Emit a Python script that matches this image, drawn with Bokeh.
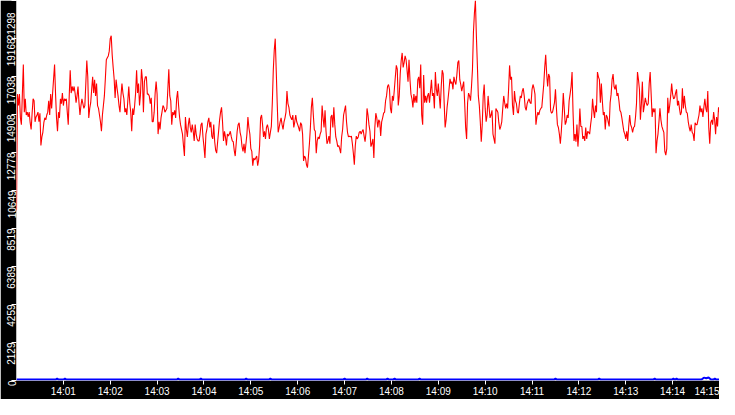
import math
import numpy as np
from bokeh.plotting import figure
from bokeh.models import Range1d, FixedTicker, LinearAxis, DatetimeTickFormatter
from bokeh.embed import file_html
from bokeh.resources import INLINE

# ---------------- data ----------------
START = np.datetime64("2024-01-01T14:00:00")
END = np.datetime64("2024-01-01T14:15:00")
SAMPLE_MS = 1250  # one red sample every 1.25 s

# red series, in consecutive pieces
red_part1 = [9530, 16050, 15410, 16050, 14720, 14340, 16050, 17710, 15040,
             15790, 14880, 15040, 14770, 15040, 14450, 14070, 14980, 15790,
             15680, 14500, 14770, 14880, 15040, 14500, 14980, 13170, 13650,
             13910, 14450, 14720, 14610, 14880, 15040, 15680, 14880, 16050,
             15250, 16110, 16910, 17710, 16050, 14720, 13970, 15040, 14720,
             15790, 15520, 16110, 15410, 15790, 15680, 15790, 15040, 14340, 15950,
             17390, 16110, 16480, 16220, 16480, 16110, 15570, 15950, 16480,
             15570, 14880, 15410, 15790, 15520, 15250, 15410, 16640, 17930,
             17020, 14720, 15250, 15570, 16320, 17020, 16110, 16860, 15950,
             16640, 15410, 15250, 14880, 14500, 13970, 14880, 15410, 15950,
             16910, 17980, 18090, 18190, 18460, 19160, 19320, 18250, 17550, 16910,
             15840, 16860, 16380, 15950, 15410, 15040, 15950, 16640, 16110, 15790,
             15040, 15250, 14880, 15680, 16480, 15570, 15040, 13970, 15250, 14880,
             15410, 16110, 17390, 16110]
red_part2 = [16640, 15410, 16050, 17450, 16860, 15040, 16750, 17020, 17020, 16050,
             16050, 15950, 15520, 15840, 14500, 14500, 15040, 16110, 16750, 16050,
             13810, 14500, 14070, 14720, 15040, 15410, 15310, 15040, 15140, 15250,
             16320, 17450, 15950, 15680, 14340, 15040, 14880, 15140, 14720, 15790,
             16220, 15410, 14770, 14340, 14070, 13810, 13170, 12580, 14770, 14070,
             13650, 14340, 14720, 14180, 13910, 14340, 13970, 13430, 14340, 13810,
             13540, 13430, 13430, 13810, 14340, 14450, 13650, 13110, 12470, 13810,
             14070, 14500, 14720, 14180, 14500, 13700, 13540, 14340, 13380, 12900,
             12740, 13380, 13970, 14610, 15040, 15310, 14500, 13430, 13970, 13650,
             13170, 13810, 13700, 13810, 13970, 13650, 13430, 13380, 12900, 12580,
             13270, 13970, 14340, 14450, 13910, 13650, 13110, 12840, 13270, 12740,
             13270, 13810, 14770, 14180, 13810, 13000, 12840, 12040, 12470, 12360,
             12470, 12580]
red_part3 = [12040, 12360, 13170, 14720, 14880, 14340, 13650, 13970, 13540, 14180,
             14340, 14070, 13540, 13910, 14240, 15570, 17390, 18520, 19160, 17390,
             15570, 13910, 14180, 14500, 14720, 14340, 14070, 14500, 14720, 15040,
             16220, 15520, 15310, 14880, 14720, 14610, 14880, 14180, 14500, 14880,
             14500, 14340, 14180, 13970, 14450, 14340, 13810, 12310, 12580, 12470,
             12090, 11930, 12580, 13270, 14180, 15310, 15840, 14880, 14070, 13970,
             12740, 13430, 13650, 13540, 13810, 13970, 15410, 14720, 14180, 15140,
             13970, 13270, 13430, 13700, 13270, 14770, 14880, 14180, 15310, 14340,
             13650, 13430, 13110, 13170, 13000, 12740, 13650, 14070, 14880, 15140,
             15410, 14500, 13910, 13650, 13700, 13650, 13700, 13270, 12740, 12090,
             13170, 13700, 13540, 13650, 13910, 13970, 13810, 13970, 14070, 13700,
             13380, 13910, 15250, 14880, 14340, 13970, 13110, 13270, 13540, 12470,
             14180]
red_part4 = [14980, 14720, 14180, 14610, 14500, 13700, 14500, 14720, 14980, 15040,
             15680, 15950, 16480, 16590, 16320, 15250, 14980, 15950, 15680, 16320,
             17020, 17660, 17450, 15410, 15950, 17180, 17930, 18360, 17550, 17820,
             18190, 17980, 17390, 16750, 17980, 16860, 16050, 15790, 15310, 16050,
             15570, 15950, 15570, 16860, 17020, 16380, 17710, 14880, 14340, 17120,
             15570, 15950, 15570, 15950, 16110, 15570, 16220, 16860, 15950, 16110,
             15250, 17290, 16320, 15950, 16640, 15950, 15250, 16480, 17390, 17180,
             15570, 14180, 14610, 15310, 15790, 16320, 16910, 16640, 16750, 16320,
             17020, 16750, 16590, 17120, 17820, 17930, 16860, 16590, 16220, 16480,
             16750, 15570, 14180, 13540, 15570, 16110, 15950, 15680, 16480, 17450,
             19530, 20600, 21298, 19320, 17710, 15950, 15410, 14500, 13380, 14340,
             15950, 16590, 15250, 14500, 14880, 15950, 15310, 14720, 14880, 15140]
red_part5 = [13810, 13540, 13270, 15250, 15140, 15040, 14450, 14070, 14240, 14500,
             15250, 15950, 15570, 15250, 15520, 15250, 16320, 17660, 16860, 17020,
             15410, 14880, 16220, 15680, 15520, 15040, 14980, 15520, 15950, 15840,
             16220, 16380, 15950, 15310, 15140, 15520, 15680, 15790, 15570, 15520,
             16320, 16590, 16380, 16050, 14340, 14770, 15040, 14880, 15140, 15250,
             15310, 15950, 16590, 17550, 18250, 17180, 16480, 17180, 17020, 15140,
             14980, 15040, 15310, 15570, 16320, 15250, 14340, 14180, 13810, 13270,
             13970, 14880, 16110, 15250, 14340, 14500, 14880, 14720, 15680, 16050,
             16480, 17290, 15040, 13430, 13810, 13380, 14340, 13110, 13910, 15250,
             14240, 14240, 13540, 13700, 13430, 14180, 13540, 13970, 13910, 13810,
             14340, 14770, 15790, 15140, 14720, 15410, 15040, 17290, 17020, 16860,
             15570, 16640, 15680, 14880, 15040, 14070, 14880, 14770, 14500, 14240]
red_part6 = [15570, 16050, 16860, 17180, 16480, 16320, 16590, 15950, 16110, 15680,
             15140, 15040, 14720, 14340, 13970, 13810, 13540, 13970, 13430, 14240,
             14880, 14340, 14180, 13910, 14180, 14240, 14770, 15520, 17290, 16860,
             16320, 14610, 15520, 16750, 15040, 15410, 15840, 15570, 15410, 15520,
             16640, 17290, 16050, 14770, 15250, 15040, 15250, 12740, 13430, 13810,
             14500, 15250, 14610, 14240, 14070, 13910, 12840, 12630, 13000, 15840,
             14980, 15410, 15950, 16640, 16050, 15790, 15840, 16110, 16320, 15410,
             15680, 15250, 14880, 15040, 16380, 15250, 15950, 15410, 15040, 14980,
             14500, 14180, 13970, 14340, 13910, 13810, 13430, 14450, 14340, 14340,
             14610, 14880, 15410, 15040, 15250, 14770, 15310, 15790, 15250, 15040,
             16220, 14180, 13270, 14450, 14610, 14340, 15040, 14610, 13810, 14770,
             14240, 15310, 15040, 15140, 15250]

# blue series (seconds after 14:00:00, value)
blue_seconds = [0, 50, 52, 54, 60, 62, 64, 205, 207, 209, 234, 236, 238,
                292, 294, 296, 323, 325, 327, 418, 420, 422, 447, 449, 451,
                473, 475, 477, 482, 484, 486, 514, 516, 518, 688, 690, 692,
                744, 746, 748, 815, 817, 819, 839, 841, 843, 845, 847,
                877, 880, 883, 886, 889, 892, 894, 896, 900]
blue_values = [50, 50, 100, 50, 50, 100, 50, 50, 100, 50, 50, 100, 50,
               50, 100, 50, 50, 100, 50, 50, 100, 50, 50, 100, 50,
               50, 100, 50, 50, 100, 50, 50, 100, 50, 50, 100, 50,
               50, 100, 50, 50, 100, 50, 50, 100, 50, 100, 50,
               50, 160, 130, 170, 50, 50, 100, 50, 50]

# axis ticks
y_max = 21298
y_ticks = [0, 2129, 4259, 6389, 8519, 10649, 12778, 14908, 17038, 19168, 21298]
x_tick_minutes = list(range(1, 16))

# ---------------- build ----------------
red_values = red_part1 + red_part2 + red_part3 + red_part4 + red_part5 + red_part6
n = len(red_values)
red_times = START + (np.arange(n) * SAMPLE_MS).astype("timedelta64[ms]")
blue_times = START + np.array(blue_seconds).astype("timedelta64[s]")

FONT = "Liberation Sans"
FS = "10px"

p = figure(width=719, height=399, x_axis_type="datetime",
           output_backend="svg", toolbar_location=None,
           x_range=Range1d(START, END), y_range=Range1d(0, y_max),
           min_border_left=0, min_border_right=0, min_border_top=0,
           min_border_bottom=0)
p.background_fill_color = "white"
p.border_fill_color = "black"
p.outline_line_color = None
p.xgrid.visible = False
p.ygrid.visible = False

p.line(red_times, red_values, line_color="#ff0000", line_width=1.1)
p.line(blue_times, blue_values, line_color="#0000ff", line_width=2)

# x axis
start_ms = START.astype("datetime64[ms]").astype(np.int64)
xa = p.xaxis[0]
xa.ticker = FixedTicker(ticks=[float(start_ms + m * 60000) for m in x_tick_minutes],
                        minor_ticks=[])
xa.formatter = DatetimeTickFormatter(seconds="%H:%M", minsec="%H:%M",
                                     minutes="%H:%M", hourmin="%H:%M",
                                     hours="%H:%M", context=None)
xa.axis_line_color = None
xa.major_tick_line_color = "white"
xa.major_tick_out = 4
xa.major_tick_in = 0
xa.minor_tick_line_color = None
xa.major_label_text_color = "white"
xa.major_label_text_font = FONT
xa.major_label_text_font_size = FS
xa.major_label_standoff = 1

# left axis: tick marks only
ya = p.yaxis[0]
ya.ticker = FixedTicker(ticks=y_ticks, minor_ticks=[])
ya.axis_line_color = None
ya.major_tick_line_color = "white"
ya.major_tick_out = 5
ya.major_tick_in = 0
ya.minor_tick_line_color = None
ya.major_label_text_color = None
ya.major_label_standoff = 0

# outer left axis: labels only (top label kept inside the picture)
TOP_LABEL_AT = 20630
label_pos = y_ticks[:-1] + [TOP_LABEL_AT]
yl = LinearAxis(ticker=FixedTicker(ticks=label_pos, minor_ticks=[]),
                major_label_overrides={pos: str(t) for pos, t in zip(label_pos, y_ticks)})
yl.axis_line_color = None
yl.major_tick_line_color = None
yl.major_tick_out = 0
yl.major_tick_in = 0
yl.minor_tick_line_color = None
yl.major_label_orientation = math.pi / 2
yl.major_label_text_color = "white"
yl.major_label_text_font = FONT
yl.major_label_text_font_size = FS
yl.major_label_standoff = 0
p.add_layout(yl, "left")

open("out.html", "w").write(file_html(p, INLINE))
